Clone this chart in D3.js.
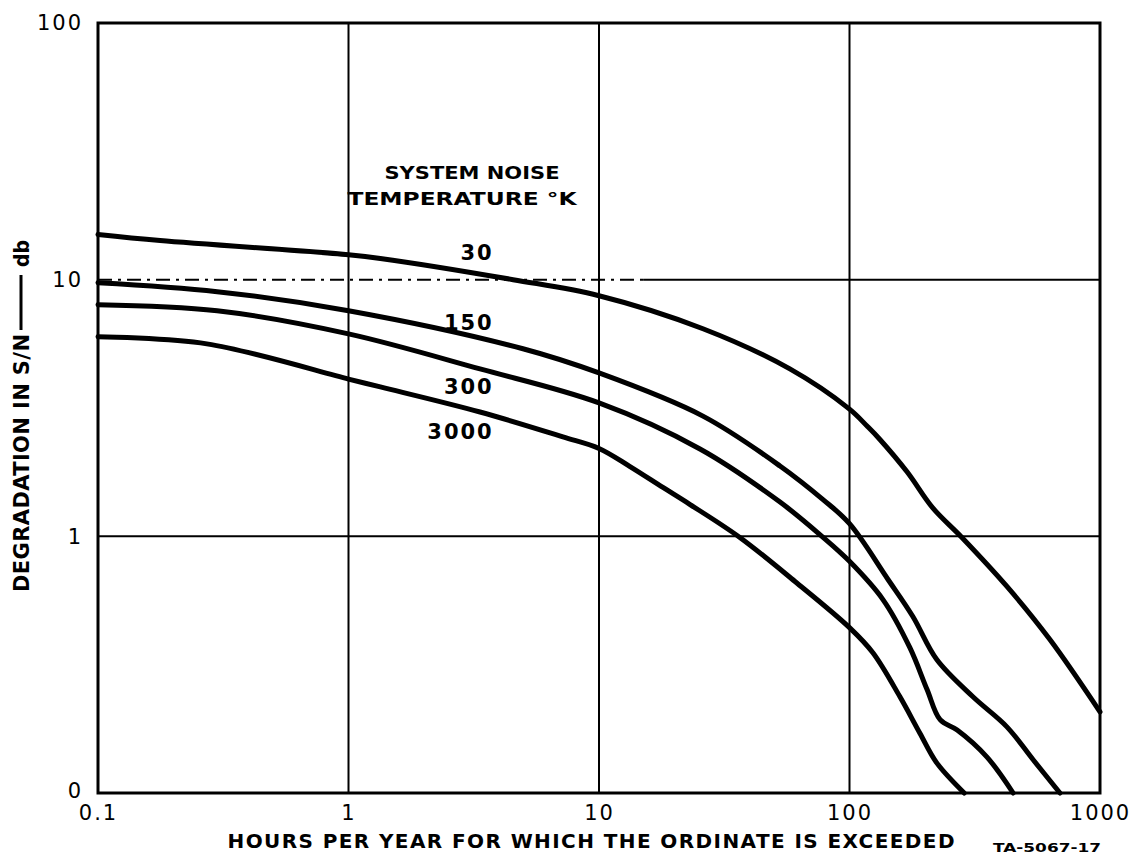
<!DOCTYPE html>
<html>
<head>
<meta charset="utf-8">
<script src="https://cdn.jsdelivr.net/npm/d3@7"></script>
<style>
  body { margin: 0; background: #fff; }
  svg { display: block; }
  .tick text { font-family: "DejaVu Sans", sans-serif; font-size: 21px; fill: #000; letter-spacing: 2px; }
  .lbl { font-family: "DejaVu Sans", sans-serif; font-weight: bold; fill: #000; }
</style>
</head>
<body>
<div id="chart"></div>
<script>
// values (hours per year, degradation in db)
const temps = ["30", "150", "300", "3000"];

const hours30 = [0.1, 0.177, 1, 1.34, 4.54, 10, 26, 57.8, 100, 117.5, 132, 170, 215, 281, 425, 631, 1000];
const db30    = [15.0, 14.2, 12.5, 12.1, 10.0, 8.66, 6.44, 4.49, 3.13, 2.69, 2.39, 1.78, 1.29, 0.99, 0.638, 0.396, 0.207];

const hours150 = [0.1, 0.299, 1, 4.97, 10, 26, 52.8, 78.4, 100, 142.5, 179, 223, 311, 425, 540, 692];
const db150    = [9.73, 8.98, 7.57, 5.38, 4.33, 2.94, 1.88, 1.39, 1.12, 0.679, 0.487, 0.331, 0.237, 0.181, 0.135, 0.1];

const hours300 = [0.1, 0.299, 1, 3.35, 10, 25.3, 52.8, 77.6, 100, 136, 174, 204, 230, 269, 354, 450];
const db300    = [7.99, 7.57, 6.15, 4.49, 3.31, 2.19, 1.36, 1.0, 0.799, 0.567, 0.369, 0.253, 0.193, 0.176, 0.138, 0.1];

const hours3000 = [0.1, 0.272, 1, 1.34, 3.35, 7.18, 10, 13.3, 18, 23.1, 36.5, 60.6, 100, 124, 159, 191, 223, 287];
const db3000    = [5.99, 5.62, 4.10, 3.82, 3.05, 2.44, 2.2, 1.87, 1.55, 1.33, 0.99, 0.667, 0.441, 0.352, 0.237, 0.171, 0.131, 0.1];

// where each temperature label sits (right end, baseline)
const labelHours = [3.8, 3.8, 3.8, 3.8];
const labelDb    = [11.97, 6.38, 3.59, 2.39];

const xTicks = [0.1, 1, 10, 100, 1000];
const xTickLabels = ["0.1", "1", "10", "100", "1000"];
const yTicks = [0.1, 1, 10, 100];
const yTickLabels = ["0", "1", "10", "100"];
const xGrid = [1, 10, 100];
const yGrid = [1, 10];

const series = [
  { label: temps[0], hours: hours30, db: db30 },
  { label: temps[1], hours: hours150, db: db150 },
  { label: temps[2], hours: hours300, db: db300 },
  { label: temps[3], hours: hours3000, db: db3000 }
];

const outerWidth = 1132, outerHeight = 859;
const margin = { left: 98, top: 23, right: 32, bottom: 66 };
const innerWidth = outerWidth - margin.left - margin.right;
const innerHeight = outerHeight - margin.top - margin.bottom;

const svg = d3.select("#chart").append("svg")
  .attr("width", outerWidth)
  .attr("height", outerHeight);

svg.append("rect").attr("width", outerWidth).attr("height", outerHeight).attr("fill", "#fff");

const g = svg.append("g")
  .attr("transform", "translate(" + margin.left + "," + margin.top + ")");

const scaleX = d3.scaleLog().domain([0.1, 1000]).range([0, innerWidth]);
const scaleY = d3.scaleLog().domain([0.1, 100]).range([innerHeight, 0]);

// grid
g.selectAll("line.vgrid").data(xGrid).enter().append("line")
  .attr("class", "vgrid")
  .attr("x1", d => scaleX(d)).attr("x2", d => scaleX(d))
  .attr("y1", 0).attr("y2", innerHeight)
  .attr("stroke", "#000").attr("stroke-width", 2);

g.selectAll("line.hgrid").data(yGrid).enter().append("line")
  .attr("class", "hgrid")
  .attr("x1", d => d === 10 ? scaleX(15) : 0).attr("x2", innerWidth)
  .attr("y1", d => scaleY(d)).attr("y2", d => scaleY(d))
  .attr("stroke", "#000").attr("stroke-width", 2);

// the 10 db line is dash-dotted on its left part
g.append("line")
  .attr("x1", 0).attr("x2", scaleX(15))
  .attr("y1", scaleY(10)).attr("y2", scaleY(10))
  .attr("stroke", "#000").attr("stroke-width", 2)
  .attr("stroke-dasharray", "14 6 3 6");

// frame
g.append("rect")
  .attr("width", innerWidth).attr("height", innerHeight)
  .attr("fill", "none").attr("stroke", "#000").attr("stroke-width", 3);

// axes
const xAxis = d3.axisBottom(scaleX).tickValues(xTicks).tickSize(0).tickPadding(12)
  .tickFormat((d, i) => xTickLabels[i]);
const yAxis = d3.axisLeft(scaleY).tickValues(yTicks).tickSize(0).tickPadding(15)
  .tickFormat((d, i) => yTickLabels[i]);

const xAxisG = g.append("g").attr("transform", "translate(0," + innerHeight + ")").call(xAxis);
const yAxisG = g.append("g").call(yAxis);
xAxisG.select(".domain").remove();
yAxisG.select(".domain").remove();
yAxisG.selectAll(".tick text").filter((d, i) => i === 0).attr("dy", "0.2em");

// curves
const line = d3.line()
  .x(d => scaleX(d[0]))
  .y(d => scaleY(d[1]))
  .curve(d3.curveCatmullRom.alpha(0.5));

g.selectAll("path.curve").data(series).enter().append("path")
  .attr("class", "curve")
  .attr("d", d => line(d.hours.map((h, i) => [h, d.db[i]])))
  .attr("fill", "none")
  .attr("stroke", "#000")
  .attr("stroke-width", 5)
  .attr("stroke-linejoin", "round")
  .attr("stroke-linecap", "round");

// curve labels
g.selectAll("text.temp").data(series).enter().append("text")
  .attr("class", "lbl temp")
  .attr("x", (d, i) => scaleX(labelHours[i]))
  .attr("y", (d, i) => scaleY(labelDb[i]))
  .attr("text-anchor", "end")
  .attr("font-size", 21)
  .style("letter-spacing", "2px")
  .text(d => d.label);

// legend title
g.append("text").attr("class", "lbl")
  .attr("x", 472 - margin.left).attr("y", 179 - margin.top)
  .attr("text-anchor", "middle").attr("font-size", 18)
  .attr("textLength", 175).attr("lengthAdjust", "spacingAndGlyphs")
  .text("SYSTEM NOISE");
g.append("text").attr("class", "lbl")
  .attr("x", 462 - margin.left).attr("y", 205 - margin.top)
  .attr("text-anchor", "middle").attr("font-size", 18)
  .attr("textLength", 229).attr("lengthAdjust", "spacingAndGlyphs")
  .text("TEMPERATURE °K");

// axis titles
svg.append("text").attr("class", "lbl")
  .attr("x", 591).attr("y", 848)
  .attr("text-anchor", "middle").attr("font-size", 20)
  .attr("textLength", 727).attr("lengthAdjust", "spacing")
  .text("HOURS PER YEAR FOR WHICH THE ORDINATE IS EXCEEDED");

svg.append("text").attr("class", "lbl")
  .attr("x", 1047).attr("y", 852)
  .attr("text-anchor", "middle").attr("font-size", 13)
  .attr("textLength", 108).attr("lengthAdjust", "spacingAndGlyphs")
  .text("TA-5067-17");

const yTitle = svg.append("g").attr("transform", "translate(29,0) rotate(-90)");
yTitle.append("text").attr("class", "lbl")
  .attr("x", -592).attr("y", 0)
  .attr("font-size", 21)
  .attr("textLength", 258).attr("lengthAdjust", "spacing")
  .text("DEGRADATION IN S/N");
yTitle.append("line")
  .attr("x1", -330).attr("x2", -275)
  .attr("y1", -8).attr("y2", -8)
  .attr("stroke", "#000").attr("stroke-width", 3);
yTitle.append("text").attr("class", "lbl")
  .attr("x", -267).attr("y", 0)
  .attr("font-size", 21)
  .attr("textLength", 27).attr("lengthAdjust", "spacingAndGlyphs")
  .text("db");
</script>
</body>
</html>
